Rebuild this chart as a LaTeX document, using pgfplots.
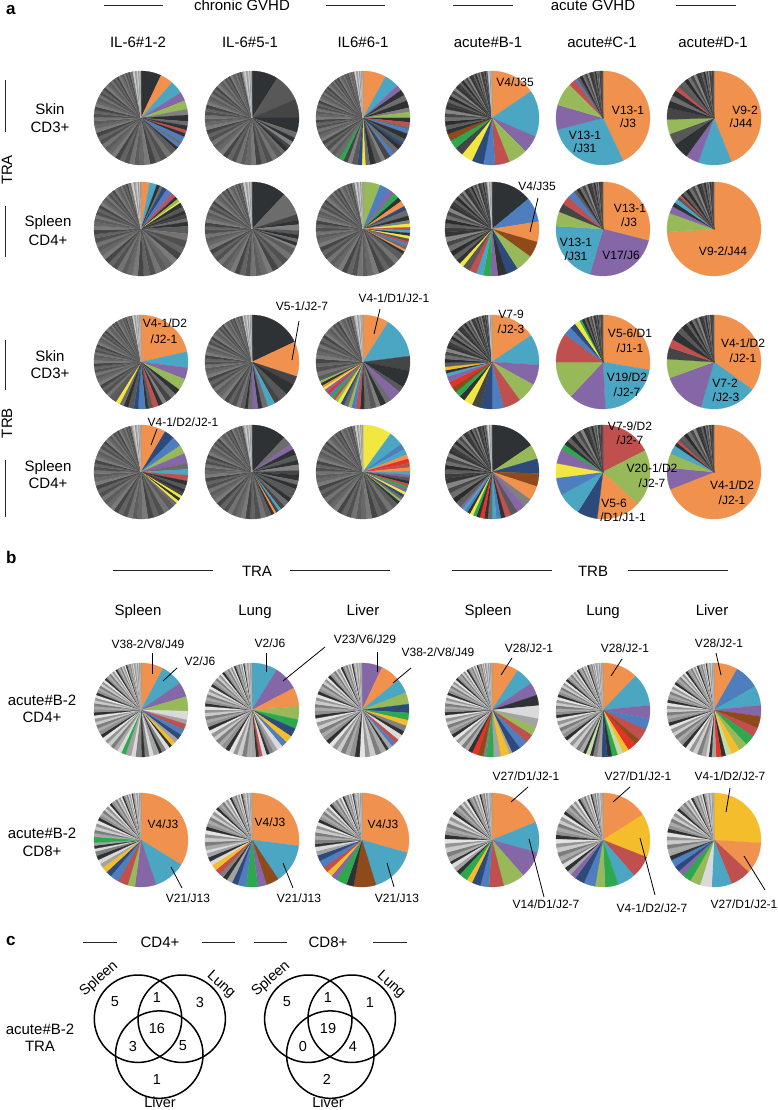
\documentclass[border=0pt]{standalone}
\usepackage{pgfplots}
\pgfplotsset{compat=1.18}
\usepackage{fontspec}
\setmainfont{Liberation Sans}
% palette
\definecolor{Or}{HTML}{F0924E}\definecolor{Tl}{HTML}{4BA6C3}\definecolor{Pu}{HTML}{8566A7}
\definecolor{Gn}{HTML}{97B95A}\definecolor{Rd}{HTML}{BF504D}\definecolor{Bl}{HTML}{4E7EBE}
\definecolor{Nv}{HTML}{2D4A7A}\definecolor{Ye}{HTML}{F2E640}\definecolor{Br}{HTML}{8F4A1C}
\definecolor{GB}{HTML}{2DA84F}\definecolor{R2}{HTML}{E53227}\definecolor{Au}{HTML}{F4BD2B}
\definecolor{LGn}{HTML}{C3DBA4}
\definecolor{Dk}{HTML}{2F3234}\definecolor{G1}{HTML}{454545}\definecolor{G2}{HTML}{585858}
\definecolor{G3}{HTML}{6C6C6C}\definecolor{G4}{HTML}{808080}\definecolor{G5}{HTML}{A3A3A3}
\definecolor{LG}{HTML}{DADADA}
% tail greys
\definecolor{A0}{HTML}{686868}\definecolor{A1}{HTML}{5C5C5C}\definecolor{A2}{HTML}{737373}
\definecolor{A3}{HTML}{505050}\definecolor{A4}{HTML}{636363}\definecolor{A5}{HTML}{454545}
\definecolor{A6}{HTML}{7A7A7A}
\definecolor{B0}{HTML}{3D3D3D}\definecolor{B1}{HTML}{5E5E5E}\definecolor{B2}{HTML}{2C2C2C}
\definecolor{B3}{HTML}{6E6E6E}\definecolor{B4}{HTML}{484848}\definecolor{B5}{HTML}{858585}
\definecolor{B6}{HTML}{353535}
\definecolor{C0}{HTML}{8F8F8F}\definecolor{C1}{HTML}{A9A9A9}\definecolor{C2}{HTML}{7D7D7D}
\definecolor{C3}{HTML}{CBCBCB}\definecolor{C4}{HTML}{959595}\definecolor{C5}{HTML}{E4E4E4}
\definecolor{C6}{HTML}{2F2F2F}
\definecolor{L0}{HTML}{8E8E8E}\definecolor{L1}{HTML}{A6A6A6}\definecolor{L2}{HTML}{BEBEBE}
\definecolor{L3}{HTML}{D4D4D4}

\pgfplotsset{pieax/.style={anchor=center,width=94pt,height=94pt,scale only axis,hide axis,
  xmin=-1,xmax=1,ymin=-1,ymax=1,clip=false}}

% tails of small clonotypes (relative sizes)
\def\tailL{1.3,1.2,1.3,1.1,1.2,1.1,1.2,1,1.1,1,1.1,1,0.95,1,0.9,0.95,0.9,0.85,0.9,0.8,0.85,0.8,0.75,0.8,0.7,0.75,0.7,0.65,0.7,0.6,0.65,0.6,0.55,0.6,0.5,0.55,0.5,0.45,0.5,0.4,0.45,0.4,0.35,0.4,0.3,0.35,0.3,0.3,0.25,0.25,0.2,0.2,0.2,0.15,0.15,0.15,0.1,0.1,0.1,0.1}
\def\tailM{1.2,1.1,1.2,1,1.1,1,0.95,1,0.9,0.85,0.9,0.8,0.75,0.8,0.7,0.7,0.65,0.6,0.6,0.55,0.5,0.5,0.45,0.45,0.4,0.4,0.35,0.35,0.3,0.3,0.25,0.25,0.2,0.2,0.2,0.15,0.15,0.1,0.1,0.1}
\def\tailS{1.5,1.4,1.3,1.2,1.1,1,0.9,0.8,0.7,0.6,0.5,0.45,0.4,0.35,0.3,0.25,0.2,0.2}

\newcommand\drawslice[2]{%
  \pgfmathsetmacro\ea{90-3.6*\cum}%
  \pgfmathsetmacro\newcum{\cum+#1}%
  \pgfmathsetmacro\sa{90-3.6*\newcum}%
  \xdef\cum{\newcum}%
  \pgfmathtruncatemacro\ns{max(2,(\ea-\sa)/3+2)}%
  \edef\tmp{\noexpand\addplot[fill=#2,draw=#2,line width=0.25pt,domain=\sa:\ea,samples=\ns]
     ({cos(x)},{sin(x)}) -- (axis cs:0,0) -- cycle;}%
  \tmp}

\newcommand\pie[6]{%
  \gdef\majsum{0}%
  \foreach \v/\c in {#3} {\pgfmathsetmacro\tmpa{\majsum+\v}\xdef\majsum{\tmpa}}%
  \gdef\tailsum{0}%
  \foreach \v in #6 {\pgfmathsetmacro\tmpa{\tailsum+\v}\xdef\tailsum{\tmpa}}%
  \pgfmathsetmacro\tsc{(100-\majsum)/\tailsum}\xdef\tscale{\tsc}%
  \begin{axis}[pieax,at={(#1pt,-#2pt)}]
    \gdef\cum{0}%
    \foreach \v/\c in {#3} {\drawslice{\v}{\c}}%
    \foreach \v [count=\i] in #6 {%
      \pgfmathsetmacro\vv{\v*\tscale}%
      \pgfmathtruncatemacro\isl{(\cum+\vv/2)>#5}%
      \ifnum\isl=1 \pgfmathtruncatemacro\k{mod(\i,4)}\edef\cc{L\k}%
      \else \pgfmathtruncatemacro\k{mod(\i,7)}\edef\cc{#4\k}\fi
      \drawslice{\vv}{\cc}}%
  \end{axis}}

\tikzset{hd/.style={font=\fontsize{15}{18}\selectfont,anchor=base,inner sep=0pt},
  lab/.style={font=\fontsize{12}{14}\selectfont,anchor=base,inner sep=0pt},
  bl/.style={font=\fontsize{17}{20}\selectfont\bfseries,anchor=base west,inner sep=0pt},
  ln/.style={line width=0.9pt,black!85},
  ld/.style={line width=0.8pt,black}}

\begin{document}
\begin{tikzpicture}
\useasboundingbox (0,0) rectangle (777pt,-1110pt);
% ---------------- section a : TRA skin
\pie{141}{118}{7/Dk,4.5/Or,4.5/Tl,3/Pu,3/Gn,2/G4,2.2/Dk,1.5/G3,1.5/Dk,1.2/Rd,1.2/Dk,2/Bl,1/G3,1.2/Bl,1/Dk}{A}{97}{\tailL}
\pie{252}{118}{9/Dk,9.5/G2,6.5/G1,5/Dk,2/G3,1.5/Dk,1.5/G4,1.2/G1,1.5/Dk,1.2/G3}{A}{97}{\tailL}
\pie{363}{118}{8/Or,5/Tl,2/Pu,2/Dk,2/G3,2.5/Dk,1.5/G4,2/Gn,1.5/Dk,1.5/Rd,1/G3,1.5/Bl,2/Dk,1.5/G2,1.2/Nv,1.5/Dk,2/G3,1.5/Bl,2/G1,1.5/G4,2/G2,2/Dk,1.5/G3,1.2/Ye,1.5/Nv,2/G2,1.5/G4,1.5/G1,1.5/GB,2/G3}{A}{97}{\tailL}
\pie{492}{118}{15.5/Or,16/Tl,6/Pu,6.5/Gn,5/Rd,4/Bl,4/Nv,4/Ye,3/G1,3/GB,2.5/Br,1.5/Dk}{B}{98.5}{\tailM}
\pie{603}{118}{43/Or,28/Tl,8.5/Pu,8/Gn,2.5/Rd,0.8/Bl}{B}{101}{\tailS}
\pie{714}{118}{44/Or,11.5/Tl,4.5/Pu,5.5/Dk,4/G2,5/Gn,4/G1,2.5/Dk,2/G3,2/Dk,1.5/Rd,1.5/G2}{B}{101}{\tailS}
% TRA spleen
\pie{141}{229}{3/Or,2.5/Tl,1.2/Dk,1/G3,1.5/Nv,1.5/Bl,1.2/Pu,1.2/Rd,1/Dk,1/Gn,0.6/Ye,1.5/Dk,1.5/G2,1.2/Dk,1.5/G1,1.2/G3,1.5/Dk}{A}{96.5}{\tailL}
\pie{252}{229}{12/Dk,8/G3,2/G1,1.5/Dk,2/G4,1.5/G2,1.5/Dk,1.2/G3,1.2/Dk,1/G4}{A}{97}{\tailL}
\pie{363}{229}{6/Gn,3.5/Bl,2/Pu,2/GB,1.5/Dk,2/Or,1.5/Nv,2/G3,1.5/Dk,1.2/G4,1.2/Ye,1/Rd,1/Tl,1/Dk,1/Ye,1/G2,0.8/Rd,1/Bl,1/G3,0.8/Or,1/Dk}{A}{97}{\tailL}
\pie{492}{229}{14/Dk,8.5/Bl,7/Or,5.5/Br,6/Gn,4/Nv,3/Dk,2.5/Pu,2.5/GB,2.5/Tl,2.5/Rd,2.5/G2,1.5/Ye,1.5/Dk}{B}{98.5}{\tailM}
\pie{603}{229}{29/Or,25.5/Pu,21.5/Tl,5/Gn,3/G1,3/Rd,2.5/Bl}{B}{101}{\tailS}
\pie{714}{229}{74/Or,6.5/Gn,2.5/Pu,1.5/Dk,1.5/Tl,1/G2,0.8/Rd,0.8/Dk}{B}{101}{\tailS}
% TRB skin
\pie{141}{362}{21.5/Or,5.5/Tl,4/Pu,4/Gn,2/Dk,2/G3,2/G1,1.5/G4,1.5/Dk,2/Rd,1.5/G2,1/Dk,2.5/Bl,1.5/Nv,2/G2,1.5/Dk,1.5/G3,1.5/Ye,1.5/G2}{A}{97}{\tailL}
\pie{252}{362}{18/Dk,12/Or,3/G1,4/Dk,3/G2,2/G1,2.5/Tl,2/G3,1.5/Dk,2/Pu,1.5/G3,1/Dk}{A}{97}{\tailL}
\pie{363}{362}{9/Or,14/Tl,5/G1,6/Dk,2/G2,4/Pu,2/G3,2/Dk,1.5/G4,2/G2,2/G3,1.5/Dk,1.5/Rd,1.5/Bl,1.2/Gn,1.5/G3,1.2/Nv,1.2/Ye,1/Gn,1/Rd,1/GB,1/Bl,1/R2,1/Pu,0.8/Ye,0.8/Or,1/Dk,0.8/Gn}{A}{97}{\tailM}
\pie{492}{362}{15.5/Or,10.5/Tl,7/Pu,7/Gn,6/Rd,4/Bl,4/Nv,3/G1,3/Ye,2/Dk,2/GB,2/Br,2/R2,2/Pu,1.2/Tl,1/Dk,1.2/Au}{B}{98.5}{\tailM}
\pie{603}{362}{27.7/Or,21.5/Tl,12.8/Pu,13/Gn,10/Rd,3/Bl,2/Nv,1.8/Ye,0.8/GB,1/Dk}{B}{101}{\tailS}
\pie{714}{362}{35/Or,19.5/Tl,15/Pu,6.5/Gn,4/G1,3/Rd,3/Dk,2/G2,2/Dk}{B}{101}{\tailS}
% TRB spleen
\pie{141}{472}{8.6/Or,3.5/Nv,3.5/Bl,3/Gn,3.5/Pu,2/G3,2/Tl,2/Rd,1.5/Dk,1.5/G2,1.2/Dk,1.2/G1,1/Ye,1/Dk,1/Ye,1.2/G3}{A}{97}{\tailL}
\pie{252}{472}{12/Dk,3/G3,2/Pu,2/Dk,2/G2,1.5/Dk,2/G4,1.5/G1,2/Dk,1.5/G3,1.5/Dk,1.5/G2,2/G2,1.5/Dk,2/G3,1.5/G1,1/Tl,1/G1,0.8/Or,1/Dk}{A}{97}{\tailL}
\pie{363}{472}{10/Ye,5/Tl,2/Bl,2/Tl,1.5/Or,1.5/R2,1.5/Rd,1.2/Or,1.2/Tl,1/Pu,1.2/G2,1/Dk,1/Rd,1/GB,1/Pu,1/Ye,1/Nv,1/G3,0.8/Gn,1/Dk}{A}{97}{\tailL}
\pie{492}{472}{15.5/Dk,5/Gn,5/Nv,4.5/Br,5/Or,3/G4,3/Pu,2.5/G2,2/Rd,1.5/Dk,1.5/Bl,1.5/Tl,1.5/G3,1.2/Dk,1.5/R2,1.2/Dk,1.2/GB,1.2/Ye,1/Dk,1/Bl,1/Tl,1/Pu}{B}{98.5}{\tailM}
\pie{603}{472}{17.5/Rd,19.5/Gn,15/Or,7/Nv,8/Tl,6/Bl,5/Ye,5/Pu,2/GB,1.5/Dk}{B}{101}{\tailS}
\pie{714}{472}{69/Or,7.5/Pu,5/Gn,3/Tl,1.2/Dk,1/Rd,1/G2}{B}{101}{\tailS}
% ---------------- section b
\pie{141}{710}{7.8/Or,7.6/Tl,5/Pu,5/Gn,3/LG,1.5/G5,2/Rd,2/Bl,1.8/Nv,1.5/G5,1.5/Au,1/Dk,1.5/LG,1.5/G4,1/Dk,2/G5,1.5/LG,1.5/G4,1.2/Dk,2/G4,1.5/LG,2/G5,1.5/GB,1.5/LG}{C}{97.5}{\tailL}
\pie{252}{710}{8.8/Tl,8.5/Pu,6.5/Or,4.5/Gn,3.2/GB,3/Nv,2.5/Au,2/Bl,2/LG,1.5/G5,1.5/G4,1/Dk,1.5/LG,1.2/Rd,1/Dk,1.5/G5}{C}{97.5}{\tailL}
\pie{362}{710}{7/Pu,7/Or,5/Tl,4/Gn,3/Nv,2.5/GB,2/Au,2/G4,1.5/Dk,2/LG,1.5/Rd,1.5/Bl,1.5/G5,1/Dk}{C}{97.5}{\tailL}
\pie{492}{710}{9.2/Or,6.3/Tl,4.4/Pu,3.6/Dk,4.5/LG,3/G5,3/Gn,3/Rd,3/Bl,3/Nv,1/G5,3/Au,2.5/G5,2.5/GB,1/G4,2/Br,2/R2,1.5/Dk}{C}{97.5}{\tailL}
\pie{603}{710}{12.2/Or,11.2/Tl,4.6/Pu,4/Bl,4/Rd,2/Br,3/R2,2/Au,2/LGn,2/GB,1.5/Dk,2/Nv,1.5/G5,1.5/G4,1/Dk,1.5/LGn,1/Dk}{C}{97.5}{\tailL}
\pie{714}{710}{8.2/Or,8.5/Bl,6.7/Tl,3.8/Pu,4.1/Br,3.2/Rd,3.5/GB,3/Gn,3/Au,2/LGn,1.5/Dk,1.8/R2,1.5/G5,1/Dk,1/LG}{C}{97.5}{\tailL}
\pie{141}{840}{33.8/Or,11/Tl,7.3/Pu,2.5/Gn,3.5/Rd,3/Bl,2/Nv,2/Au,1.5/G5,1.5/LG,1.5/Dk,1.5/G4,1/LG,1/Dk,1/G5,2/GB}{C}{97.5}{\tailM}
\pie{252}{840}{27/Or,13.6/Tl,4.4/Br,3/Pu,4/GB,3/Bl,2/Nv,2/G5,1.5/Dk,1.5/G4,2/Rd,2/Au,1.5/LG,1.5/Dk,1.5/G5,1/LG}{C}{97.5}{\tailM}
\pie{362}{840}{29.4/Or,15.8/Tl,7.7/Br,2.5/Dk,3.8/GB,2/Pu,2/Au,2/Rd,2.5/Bl,2/Nv,1.5/G5,1.5/LG,1/Dk,1.5/G4}{C}{97.5}{\tailM}
\pie{492}{840}{18.8/Or,10.5/Tl,9.2/Pu,7.5/Gn,5/Rd,3/Bl,3/Nv,2/Au,3/GB,1.5/Dk,1.5/G5,1.5/LG,1/Dk}{C}{97.5}{\tailM}
\pie{603}{840}{16/Or,15/Au,7.6/Rd,6.2/Tl,4.5/GB,3.4/Gn,4/Bl,3.3/Nv,2/Pu,1.5/G5,1.5/Dk,1.5/LG,1/G4}{C}{97.5}{\tailM}
\pie{714}{840}{26/Au,10.9/Or,7/Rd,6.9/Tl,4/LG,3.6/Gn,3.1/GB,2/Pu,2/Nv,2.5/Bl,1.5/Dk,1/G5}{C}{97.5}{\tailM}
% ---------------- section c : Venn diagrams
\begin{axis}[at={(0pt,-835pt)},anchor=north west,width=420pt,height=275pt,scale only axis,hide axis,
  xmin=0,xmax=420,ymin=835,ymax=1110,y dir=reverse,clip=false]
\addplot[black,line width=1.5pt,domain=0:360,samples=120] ({138+43.7*cos(x)},{1018.7+43.7*sin(x)});
\addplot[black,line width=1.5pt,domain=0:360,samples=120] ({181.7+43.7*cos(x)},{1018.7+43.7*sin(x)});
\addplot[black,line width=1.5pt,domain=0:360,samples=120] ({159.3+43.7*cos(x)},{1054.6+43.7*sin(x)});
\addplot[black,line width=1.5pt,domain=0:360,samples=120] ({308.3+43.7*cos(x)},{1018.7+43.7*sin(x)});
\addplot[black,line width=1.5pt,domain=0:360,samples=120] ({351.7+43.7*cos(x)},{1018.7+43.7*sin(x)});
\addplot[black,line width=1.5pt,domain=0:360,samples=120] ({330.3+43.7*cos(x)},{1054.6+43.7*sin(x)});
\end{axis}
% ---------------- texts
\begin{scope}[x=1pt,y=-1pt]
\tikzset{vn/.style={font=\fontsize{14.5}{17}\selectfont,anchor=center,inner sep=0pt}}
% section a headers
\node[bl] at (6,15) {a};
\node[hd] at (242,11) {chronic GVHD};
\node[hd] at (593,11) {acute GVHD};
\draw[ln] (104,5)--(163,5) (326,5)--(385,5) (453,5)--(513,5) (676,5)--(736,5);
\node[hd] at (138,48) {IL-6\#1-2};
\node[hd] at (250,48) {IL-6\#5-1};
\node[hd] at (363,48) {IL6\#6-1};
\node[hd] at (488,48) {acute\#B-1};
\node[hd] at (602,48) {acute\#C-1};
\node[hd] at (713,48) {acute\#D-1};
\node[hd] at (50,115) {Skin}; \node[hd] at (50,133) {CD3+};
\node[hd] at (48,226) {Spleen}; \node[hd] at (48,245) {CD4+};
\node[hd] at (50,361) {Skin}; \node[hd] at (50,378) {CD3+};
\node[hd] at (48,471) {Spleen}; \node[hd] at (48,488) {CD4+};
\draw[ln] (5,80)--(5,132) (5,206)--(5,257) (5,340)--(5,390) (5,460)--(5,517);
\node[hd,anchor=center,rotate=90] at (7,170) {TRA};
\node[hd,anchor=center,rotate=90] at (7,423) {TRB};
% pie labels a
\node[lab] at (515,87) {V4/J35};
\node[lab] at (628,115) {V13-1}; \node[lab] at (628,128) {/J3};
\node[lab] at (585,140) {V13-1}; \node[lab] at (585,153) {/J31};
\node[lab] at (745,115) {V9-2}; \node[lab] at (741,128) {/J44};
\node[lab] at (537,190) {V4/J35}; \draw[ld] (538,198)--(530,232);
\node[lab] at (630,212) {V13-1}; \node[lab] at (629,226) {/J3};
\node[lab] at (576,246) {V13-1}; \node[lab] at (576,260) {/J31};
\node[lab] at (621,259) {V17/J6};
\node[lab] at (723,255) {V9-2/J44};
\node[lab] at (165,327) {V4-1/D2}; \node[lab] at (164,343) {/J2-1};
\node[lab] at (302,310) {V5-1/J2-7}; \draw[ld] (299,321)--(292,360);
\node[lab] at (394,302) {V4-1/D1/J2-1}; \draw[ld] (380,309)--(374,334);
\node[lab] at (511,318) {V7-9}; \node[lab] at (511,333) {/J2-3};
\node[lab] at (630,337) {V5-6/D1}; \node[lab] at (630,352) {/J1-1};
\node[lab] at (627,381) {V19/D2}; \node[lab] at (627,396) {/J2-7};
\node[lab] at (743,347) {V4-1/D2}; \node[lab] at (743,362) {/J2-1};
\node[lab] at (725,387) {V7-2}; \node[lab] at (726,401) {/J2-3};
\node[lab] at (183,426) {V4-1/D2/J2-1}; \draw[ld] (157,429)--(151,445);
\node[lab] at (630,430) {V7-9/D2}; \node[lab] at (630,444) {/J2-7};
\node[lab] at (652,472) {V20-1/D2}; \node[lab] at (652,487) {/J2-7};
\node[lab] at (614,507) {V5-6}; \node[lab] at (623,521) {/D1/J1-1};
\node[lab] at (732,489) {V4-1/D2}; \node[lab] at (732,504) {/J2-1};
% section b headers
\node[bl] at (6,563) {b};
\node[hd] at (257,576) {TRA}; \node[hd] at (593,576) {TRB};
\draw[ln] (113,570)--(213,570) (290,570)--(390,570) (452,570)--(552,570) (628,570)--(728,570);
\node[hd] at (138,615) {Spleen}; \node[hd] at (255,615) {Lung}; \node[hd] at (363,615) {Liver};
\node[hd] at (488,615) {Spleen}; \node[hd] at (603,615) {Lung}; \node[hd] at (712,615) {Liver};
\node[hd] at (42,705) {acute\#B-2}; \node[hd] at (42,722) {CD4+};
\node[hd] at (42,838) {acute\#B-2}; \node[hd] at (42,856) {CD8+};
% pie labels b
\node[lab] at (148,648) {V38-2/V8/J49}; \draw[ld] (152,653)--(152,674);
\node[lab] at (200,665) {V2/J6}; \draw[ld] (177,668)--(163,681);
\node[lab] at (270,647) {V2/J6}; \draw[ld] (266,653)--(266,672);
\node[lab] at (365,643) {V23/V6/J29}; \draw[ld] (325,647)--(283,681); \draw[ld] (377,652)--(377,672);
\node[lab] at (438,656) {V38-2/V8/J49}; \draw[ld] (411,668)--(393,683);
\node[lab] at (529,652) {V28/J2-1}; \draw[ld] (512,658)--(501,675);
\node[lab] at (625,652) {V28/J2-1}; \draw[ld] (622,659)--(611,676);
\node[lab] at (719,647) {V28/J2-1}; \draw[ld] (716,653)--(721,675);
\node[lab] at (163,828) {V4/J3}; \node[lab] at (270,826) {V4/J3}; \node[lab] at (383,828) {V4/J3};
\node[lab] at (188,902) {V21/J13}; \draw[ld] (171,867)--(182,888);
\node[lab] at (299,902) {V21/J13}; \draw[ld] (283,863)--(293,888);
\node[lab] at (397,902) {V21/J13}; \draw[ld] (387,863)--(394,887);
\node[lab] at (526,780) {V27/D1/J2-1}; \draw[ld] (528,787)--(511,802);
\node[lab] at (638,780) {V27/D1/J2-1}; \draw[ld] (630,787)--(613,802);
\node[lab] at (730,780) {V4-1/D2/J2-7}; \draw[ld] (730,788)--(726,812);
\node[lab] at (546,908) {V14/D1/J2-7}; \draw[ld] (529,839)--(544,897);
\node[lab] at (652,912) {V4-1/D2/J2-7}; \draw[ld] (640,838)--(655,895);
\node[lab] at (744,908) {V27/D1/J2-1}; \draw[ld] (744,856)--(765,890);
% section c
\node[bl] at (6,945) {c};
\node[hd] at (160,947) {CD4+}; \node[hd] at (328,947) {CD8+};
\draw[ln] (83,942)--(117,942) (202,942)--(235,942) (254,942)--(287,942) (373,942)--(407,942);
\node[hd] at (40,1034) {acute\#B-2}; \node[hd] at (40,1051) {TRA};
\node[vn] at (115,1002) {5}; \node[vn] at (157,997) {1}; \node[vn] at (200,1002) {3};
\node[vn] at (157,1028) {16}; \node[vn] at (133,1046) {3}; \node[vn] at (183,1046) {5};
\node[vn] at (157,1079) {1};
\node[vn] at (287,1002) {5}; \node[vn] at (328,997) {1}; \node[vn] at (370,1002) {1};
\node[vn] at (328,1028) {19}; \node[vn] at (303,1046) {0}; \node[vn] at (353,1046) {4};
\node[vn] at (327,1079) {2};
\node[vn,rotate=42] at (99,979) {Spleen}; \node[vn,rotate=-42] at (221,985) {Lung};
\node[vn] at (160,1102) {Liver};
\node[vn,rotate=42] at (271,979) {Spleen}; \node[vn,rotate=-42] at (391,985) {Lung};
\node[vn] at (328,1102) {Liver};
\end{scope}
\end{tikzpicture}
\end{document}
